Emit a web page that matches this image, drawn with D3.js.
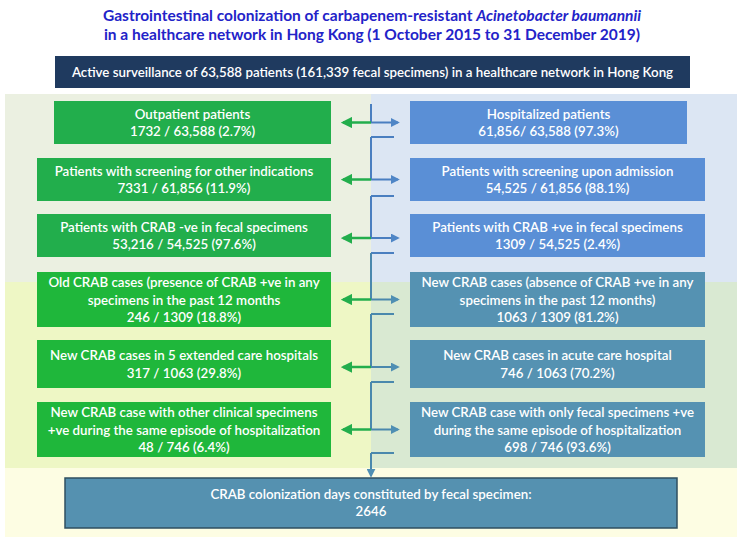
<!DOCTYPE html>
<html><head><meta charset="utf-8">
<script src="https://cdn.jsdelivr.net/npm/d3@7"></script>
<style>
html,body{margin:0;padding:0;background:#fff;}
svg text{font-family:Lato,"Open Sans",sans-serif;}
</style></head>
<body>
<svg id="c" width="745" height="545"></svg>
<script>
// ---- data ----
const titleLines = [
  ["Gastrointestinal colonization of carbapenem-resistant ", "Acinetobacter baumannii"],
  ["in a healthcare network in Hong Kong (1 October 2015 to 31 December 2019)", ""]
];
const topText = "Active surveillance of 63,588 patients (161,339 fecal specimens) in a healthcare network in Hong Kong";
const leftLabels = [
  ["Outpatient patients"],
  ["Patients with screening for other indications"],
  ["Patients with CRAB -ve in fecal specimens"],
  ["Old CRAB cases (presence of CRAB +ve in any", "specimens in the past 12 months"],
  ["New CRAB cases in 5 extended care hospitals"],
  ["New CRAB case with other clinical specimens", "+ve during the same episode of hospitalization"]
];
const leftCounts = ["1732 / 63,588 (2.7%)", "7331 / 61,856 (11.9%)", "53,216 / 54,525 (97.6%)",
  "246 / 1309 (18.8%)", "317 / 1063 (29.8%)", "48 / 746 (6.4%)"];
const rightLabels = [
  ["Hospitalized patients"],
  ["Patients with screening upon admission"],
  ["Patients with CRAB +ve in fecal specimens"],
  ["New CRAB cases (absence of CRAB +ve in any", "specimens in the past 12 months)"],
  ["New CRAB cases in acute care hospital"],
  ["New CRAB case with only fecal specimens +ve", "during the same episode of hospitalization"]
];
const rightCounts = ["61,856/ 63,588 (97.3%)", "54,525 / 61,856 (88.1%)", "1309 / 54,525 (2.4%)",
  "1063 / 1309 (81.2%)", "746 / 1063 (70.2%)", "698 / 746 (93.6%)"];
const bottomLines = ["CRAB colonization days constituted by fecal specimen:", "2646"];

// ---- layout ----
const svg = d3.select("#c");
const rows = [
  {y:101, h:43, stub:137},
  {y:158, h:43, stub:196},
  {y:214, h:43, stub:253},
  {y:272, h:55, stub:314},
  {y:340, h:48, stub:382},
  {y:402, h:55, stub:453}
];
const midX = 371;
const leftX = [54,37,37,37,37,37], leftR = 331;
const rightX = 410, rightR = [687,705,705,705,705,705];
const greenTop = "#22ae4c", greenLow = "#1fb73b";
const blueTop = "#5a8fd6", blueLow = "#5592b2";
const fs = 13.3;

// backgrounds
svg.append("rect").attr("x",5).attr("y",94).attr("width",midX-5).attr("height",188).attr("fill","#ebf0e1");
svg.append("rect").attr("x",midX).attr("y",94).attr("width",737-midX).attr("height",188).attr("fill","#dce6f3");
svg.append("rect").attr("x",5).attr("y",282).attr("width",midX-5).attr("height",186).attr("fill","#eef7c5");
svg.append("rect").attr("x",midX).attr("y",282).attr("width",737-midX).attr("height",186).attr("fill","#d9e9d2");
svg.append("rect").attr("x",5).attr("y",468).attr("width",732).attr("height",69).attr("fill","#fdfde3");

// title
const tt = svg.append("text").attr("text-anchor","middle").attr("fill","#2323c8")
  .attr("font-weight","bold").attr("font-size",15.5);
titleLines.forEach((l,i)=>{
  const t = tt.append("tspan").attr("x",372).attr("y",21+i*18.5);
  t.text(l[0]);
  if(l[1]) tt.append("tspan").attr("font-style","italic").text(l[1]);
});

// navy header
svg.append("rect").attr("x",55).attr("y",56).attr("width",635).attr("height",32).attr("fill","#1f3a5f");
svg.append("text").attr("x",372.5).attr("y",77).attr("text-anchor","middle").attr("fill","#fff")
  .attr("font-size",fs).attr("font-weight",600).text(topText);

function boxText(cx, r, lines){
  const n = lines.length, lh = 17.5;
  const cy = r.y + r.h/2;
  const t = svg.append("text").attr("text-anchor","middle").attr("fill","#fff")
    .attr("font-size",fs).attr("font-weight",600);
  lines.forEach((s,i)=>{
    t.append("tspan").attr("x",cx).attr("y", cy + (i-(n-1)/2)*lh + 5).text(s);
  });
}

rows.forEach((r,i)=>{
  svg.append("rect").attr("x",leftX[i]).attr("y",r.y).attr("width",leftR-leftX[i]).attr("height",r.h)
    .attr("fill", i<3?greenTop:greenLow);
  svg.append("rect").attr("x",rightX).attr("y",r.y).attr("width",rightR[i]-rightX).attr("height",r.h)
    .attr("fill", i<3?blueTop:blueLow);
  boxText((leftX[i]+leftR)/2, r, leftLabels[i].concat([leftCounts[i]]));
  boxText((rightX+rightR[i])/2, r, rightLabels[i].concat([rightCounts[i]]));
});

// arrow markers
const defs = svg.append("defs");
function marker(id,color){
  defs.append("marker").attr("id",id).attr("viewBox","0 0 10 10").attr("refX",8).attr("refY",5)
    .attr("markerWidth",4.5).attr("markerHeight",4.5).attr("orient","auto-start-reverse")
    .append("path").attr("d","M0,0L10,5L0,10z").attr("fill",color);
}
marker("mg","#22ae4c"); marker("mb","#4f86c6"); marker("ms","#4f8fb3");

// connectors
const lineBlue = "#4a7fc0", lineSteel = "#4a88ad";
rows.forEach((r,i)=>{
  const ay = r.y + r.h/2 + (i===2?2.5:i===4?3:0);
  const col = i<3 ? lineBlue : lineSteel;
  const prevY = i===0 ? 104 : rows[i-1].stub;
  svg.append("line").attr("x1",midX).attr("x2",midX).attr("y1",prevY).attr("y2",ay)
    .attr("stroke",col).attr("stroke-width",2);
  svg.append("path").attr("d",`M${midX},${r.stub}H394`).attr("fill","none").attr("stroke",col).attr("stroke-width",2);
  svg.append("line").attr("x1",midX).attr("x2",343).attr("y1",ay).attr("y2",ay)
    .attr("stroke","#22ae4c").attr("stroke-width",2.5).attr("marker-end","url(#mg)");
  svg.append("line").attr("x1",midX).attr("x2",398).attr("y1",ay).attr("y2",ay)
    .attr("stroke",col).attr("stroke-width",2).attr("marker-end", i<3?"url(#mb)":"url(#ms)");
});
svg.append("line").attr("x1",midX).attr("x2",midX).attr("y1",rows[5].stub).attr("y2",476)
  .attr("stroke",lineSteel).attr("stroke-width",2).attr("marker-end","url(#ms)");

// bottom box
svg.append("rect").attr("x",65).attr("y",478).attr("width",612).attr("height",50)
  .attr("fill","#5591b0").attr("stroke","#2f4f60").attr("stroke-width",1.5);
bottomLines.forEach((s,i)=>{
  svg.append("text").attr("x",371).attr("y",499+i*17).attr("text-anchor","middle").attr("fill","#fff")
    .attr("font-size",fs).attr("font-weight",600).text(s);
});
</script>
</body></html>
